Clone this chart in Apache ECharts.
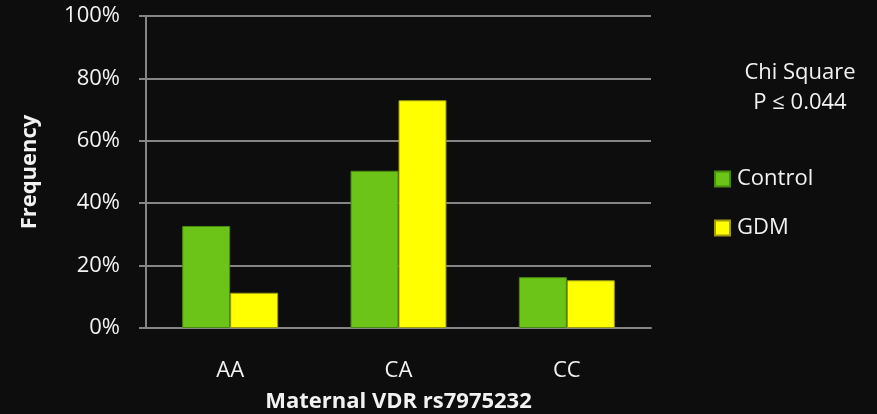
<!DOCTYPE html>
<html>
<head>
<meta charset="utf-8">
<script src="https://cdn.jsdelivr.net/npm/echarts@6/dist/echarts.min.js"></script>
<style>
  html, body { margin: 0; padding: 0; background: #0d0d0d; }
  #chart { width: 877px; height: 414px; }
</style>
</head>
<body>
<div id="chart"></div>
<script>
// 数据
var categories = ["AA", "CA", "CC"];
var controlValues = [32.7, 50.4, 16.3];
var gdmValues = [11.3, 73.0, 15.3];
var yTicks = [0, 20, 40, 60, 80, 100];

var textColor = "#f2f2f2";
var fontName = "Open Sans";

var myChart = echarts.init(document.getElementById("chart"));

var option = {
  backgroundColor: "#0d0d0d",
  grid: {
    left: 146,
    right: 226,
    top: 16,
    bottom: 86,
    containLabel: false,
    outerBoundsMode: "none",
  },
  legend: {
    orient: "vertical",
    left: 714,
    top: 168,
    padding: 0,
    itemWidth: 15,
    itemHeight: 15,
    itemGap: 27,
    icon: "rect",
    textStyle: {
      color: textColor,
      fontFamily: fontName,
      fontSize: 22,
      padding: [0, 0, 0, 2],
    },
    data: ["Control", "GDM"],
  },
  graphic: [
    {
      type: "text",
      x: 800,
      y: 58,
      style: {
        text: "Chi Square\nP ≤ 0.044",
        textAlign: "center",
        textVerticalAlign: "top",
        fill: textColor,
        font: "22px 'Open Sans'",
        lineHeight: 30,
      },
    },
  ],
  xAxis: {
    type: "category",
    data: categories,
    name: "Maternal VDR rs7975232",
    nameLocation: "middle",
    nameGap: 63,
    nameTextStyle: {
      color: textColor,
      fontFamily: fontName,
      fontSize: 22,
      fontWeight: "bold",
    },
    axisLine: {
      lineStyle: { color: "#858585", width: 2 },
    },
    axisTick: { show: false },
    axisLabel: {
      color: textColor,
      fontFamily: fontName,
      fontSize: 22,
      margin: 32,
    },
  },
  yAxis: {
    type: "value",
    min: 0,
    max: 100,
    interval: 20,
    name: "Frequency",
    nameLocation: "middle",
    nameGap: 105,
    nameRotate: 90,
    nameTextStyle: {
      color: textColor,
      fontFamily: fontName,
      fontSize: 22,
      fontWeight: "bold",
    },
    axisLine: {
      show: true,
      lineStyle: { color: "#858585", width: 2 },
    },
    axisTick: {
      show: true,
      length: 7,
      lineStyle: { color: "#858585", width: 2 },
    },
    axisLabel: {
      color: textColor,
      fontFamily: fontName,
      fontSize: 22,
      margin: 26,
      formatter: function (v) {
        return yTicks.indexOf(v) >= 0 ? v + "%" : "";
      },
    },
    splitLine: {
      show: true,
      lineStyle: { color: "#858585", width: 2 },
    },
  },
  series: [
    {
      name: "Control",
      type: "bar",
      data: controlValues,
      barGap: "0%",
      barCategoryGap: "43%",
      itemStyle: {
        color: "#6bc417",
        borderColor: "#4a8a12",
        borderWidth: 1,
      },
    },
    {
      name: "GDM",
      type: "bar",
      data: gdmValues,
      itemStyle: {
        color: "#ffff00",
        borderColor: "#9c9c10",
        borderWidth: 1,
      },
    },
  ],
};

myChart.setOption(option);
</script>
</body>
</html>
